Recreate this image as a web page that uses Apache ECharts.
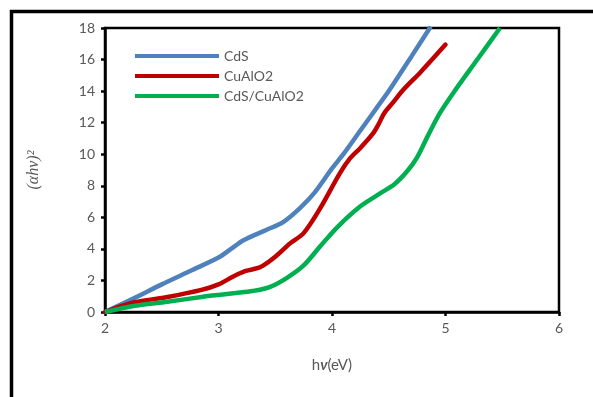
<!DOCTYPE html>
<html>
<head>
<meta charset="utf-8">
<script src="https://cdn.jsdelivr.net/npm/echarts@6/dist/echarts.min.js"></script>
<style>
html,body{margin:0;padding:0;background:#fff;}
#chart{width:593px;height:397px;}
</style>
</head>
<body>
<div id="chart"></div>
<script>
// Series names
var seriesNames = ['CdS', 'CuAlO2', 'CdS/CuAlO2'];

// CdS
var cdsX = [2, 2.25, 2.5, 2.75, 3, 3.13, 3.22, 3.42, 3.57, 3.72, 3.85, 4.0, 4.1, 4.25, 4.4, 4.5, 4.7, 4.87];
var cdsY = [0, 0.85, 1.75, 2.6, 3.45, 4.1, 4.55, 5.2, 5.7, 6.6, 7.6, 9.1, 10.0, 11.5, 13.0, 14.0, 16.2, 18.1];

// CuAlO2
var cuX = [2, 2.25, 2.55, 2.85, 3.0, 3.13, 3.24, 3.37, 3.5, 3.63, 3.75, 3.89, 4.07, 4.16, 4.25, 4.36, 4.41, 4.46, 4.54, 4.63, 4.78, 5.0];
var cuY = [0, 0.6, 0.95, 1.4, 1.75, 2.25, 2.6, 2.85, 3.5, 4.35, 5.0, 6.5, 8.8, 9.75, 10.4, 11.3, 11.9, 12.6, 13.3, 14.1, 15.2, 16.95];

// CdS/CuAlO2
var mixX = [2, 2.25, 2.55, 2.85, 3.0, 3.15, 3.3, 3.45, 3.6, 3.75, 3.9, 4.05, 4.25, 4.42, 4.55, 4.66, 4.75, 4.84, 4.95, 5.07, 5.28, 5.48];
var mixY = [0, 0.38, 0.65, 0.95, 1.08, 1.2, 1.33, 1.58, 2.15, 2.95, 4.2, 5.4, 6.7, 7.5, 8.1, 8.9, 9.8, 11.1, 12.6, 13.9, 16.0, 18.0];

// Axis ticks
var xMin = 2, xMax = 6, xStep = 1;
var yMin = 0, yMax = 18, yStep = 2;

function pairs(xs, ys) {
  var out = [];
  for (var i = 0; i < xs.length; i++) out.push([xs[i], ys[i]]);
  return out;
}

var colors = ['#4F81BD', '#C00000', '#00B050'];
var labelFont = 'Lato';

var chart = echarts.init(document.getElementById('chart'), null, {renderer: 'canvas'});
var option = {
  animation: false,
  backgroundColor: '#ffffff',
  grid: {
    left: 105, right: 34, top: 28, bottom: 85,
    show: true, borderColor: '#000', borderWidth: 2.5, backgroundColor: 'transparent'
  },
  legend: {
    orient: 'vertical',
    left: 130, top: 44,
    itemWidth: 84, itemHeight: 4, itemGap: 6,
    icon: 'rect',
    data: seriesNames,
    textStyle: {fontFamily: labelFont, fontSize: 14, color: '#595959', lineHeight: 13}
  },
  xAxis: {
    type: 'value', min: xMin, max: xMax, interval: xStep,
    name: 'h{b|ν}(eV)',
    nameLocation: 'middle', nameGap: 46,
    nameTextStyle: {
      fontFamily: labelFont, fontSize: 15, color: '#595959',
      rich: {b: {fontFamily: labelFont, fontSize: 15, color: '#595959', fontWeight: 'bold', fontStyle: 'italic'}}
    },
    axisLine: {show: true, lineStyle: {color: '#000', width: 2.5}},
    axisTick: {show: true, inside: false, length: 4, lineStyle: {color: '#000', width: 2.5}},
    axisLabel: {fontFamily: labelFont, fontSize: 14, color: '#595959', margin: 9},
    splitLine: {show: false}
  },
  yAxis: {
    type: 'value', min: yMin, max: yMax, interval: yStep,
    name: '(αhν)²',
    nameLocation: 'middle', nameGap: 63, nameRotate: 90,
    nameTextStyle: {fontFamily: 'Liberation Serif', fontStyle: 'italic', fontSize: 16, color: '#595959'},
    axisLine: {show: true, lineStyle: {color: '#000', width: 2.5}},
    axisTick: {show: true, inside: false, length: 4, lineStyle: {color: '#000', width: 2.5}},
    axisLabel: {fontFamily: labelFont, fontSize: 14, color: '#595959', margin: 10},
    splitLine: {show: false}
  },
  series: [
    {name: seriesNames[0], type: 'line', data: pairs(cdsX, cdsY), smooth: 0.3, showSymbol: false, symbol: 'none',
     lineStyle: {color: colors[0], width: 4.5}, itemStyle: {color: colors[0]}, clip: true},
    {name: seriesNames[1], type: 'line', data: pairs(cuX, cuY), smooth: 0.3, showSymbol: false, symbol: 'none',
     lineStyle: {color: colors[1], width: 4.5, cap: 'round'}, itemStyle: {color: colors[1]}, clip: true},
    {name: seriesNames[2], type: 'line', data: pairs(mixX, mixY), smooth: 0.3, showSymbol: false, symbol: 'none',
     lineStyle: {color: colors[2], width: 4.5}, itemStyle: {color: colors[2]}, clip: true}
  ],
  graphic: [
    {type: 'rect', left: 9, top: 9, shape: {width: 700, height: 500},
     style: {fill: 'none', stroke: '#000', lineWidth: 3.5}, silent: true}
  ]
};
chart.setOption(option);
</script>
</body>
</html>
